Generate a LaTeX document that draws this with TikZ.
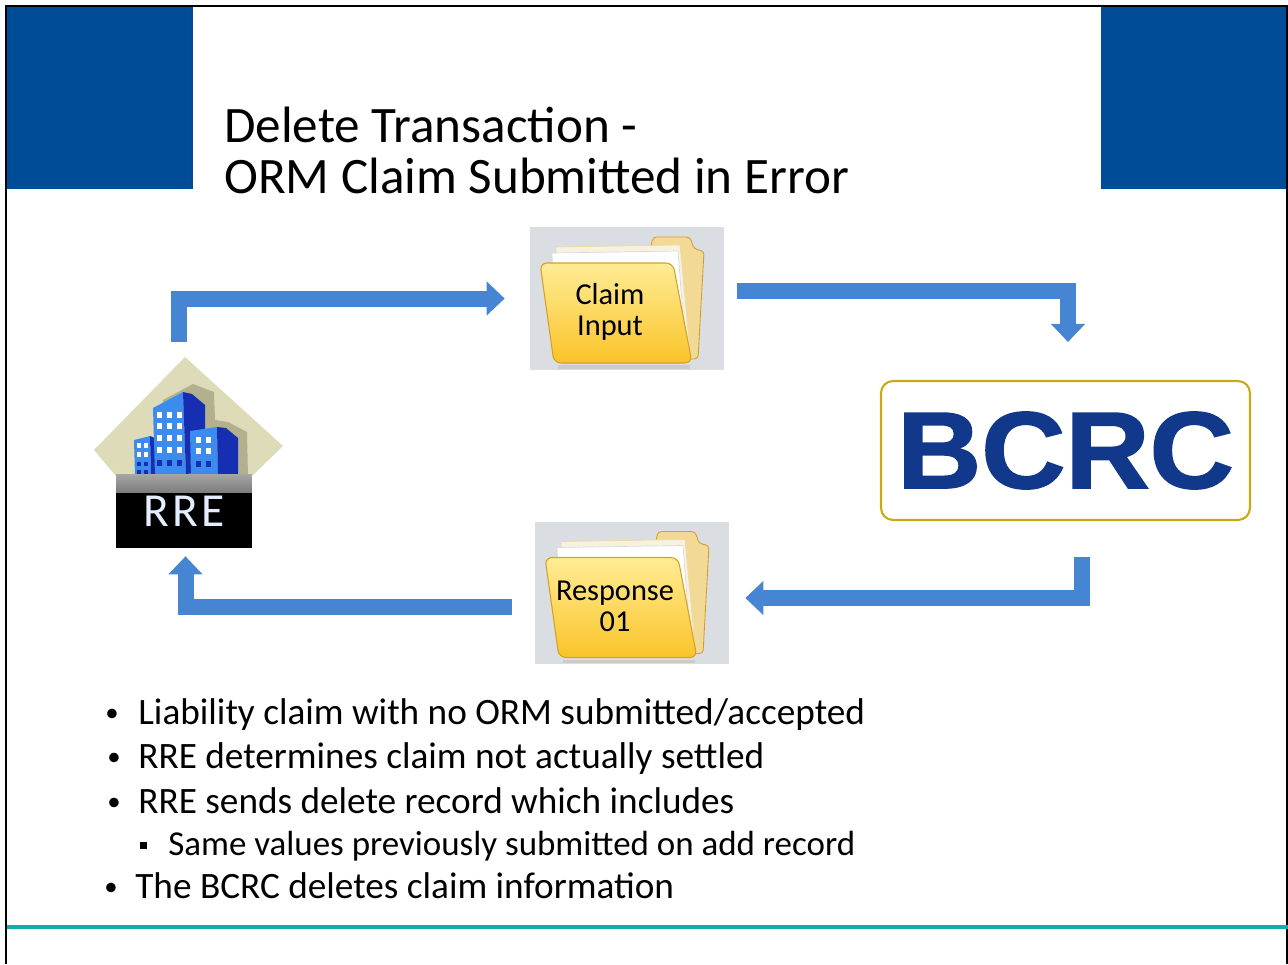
\documentclass[tikz,border=0pt]{standalone}
\usepackage{fontspec}
\setmainfont{Carlito}
\newfontfamily\logofont[FakeBold=1.5]{Liberation Sans}
\usepackage{graphicx}
\usetikzlibrary{positioning,calc,arrows.meta}

\definecolor{slideblue}{RGB}{0,76,151}
\definecolor{rulecolor}{RGB}{24,172,168}
\definecolor{flowblue}{RGB}{70,132,212}
\definecolor{folderbg}{RGB}{218,221,225}
\definecolor{foldfront}{RGB}{250,196,40}
\definecolor{foldlight}{RGB}{255,236,150}
\definecolor{foldedge}{RGB}{214,160,40}
\definecolor{foldback}{RGB}{242,218,150}
\definecolor{paper}{RGB}{248,246,236}
\definecolor{goldline}{RGB}{200,170,20}
\definecolor{bcrcblue}{RGB}{18,56,140}
\definecolor{roofbeige}{RGB}{222,220,184}
\definecolor{bldshadow}{RGB}{178,176,142}
\definecolor{bldlight}{RGB}{60,140,240}
\definecolor{blddark}{RGB}{22,46,178}
\definecolor{rretext}{RGB}{228,238,255}

\tikzset{
  folder/.pic={
    \begin{scope}[shift={(-97,-71.5)}]
      % back of the folder
      \fill[foldback, draw=foldedge, line width=0.5pt, rounded corners=2pt]
        (40,24) -- (120,24) -- (123,10) -- (160,10) -- (164,22) -- (174,24) -- (168,132) -- (40,132) -- cycle;
      % sheets
      \fill[paper!85!foldback, draw=foldedge!40] (26,20) -- (150,18) -- (160,125) -- (30,128) -- cycle;
      \fill[white, draw=black!15] (22,26) -- (148,24) -- (156,128) -- (26,130) -- cycle;
      % front of the folder
      \shade[top color=foldlight, bottom color=foldfront, draw=foldedge, line width=0.6pt, rounded corners=4pt]
        (10,36) -- (143,36) -- (162,136) -- (24,136) -- cycle;
      \draw[black!25, line width=2pt, opacity=.6] (28,140) -- (160,140);
    \end{scope}
  },
  folderbox/.style={minimum width=3.88cm, minimum height=2.86cm, inner sep=0pt, fill=folderbg,
    path picture={\pic at (path picture bounding box.center) {folder};}},
  foldertext/.style={align=center, font=\fontsize{17.3}{17.8}\selectfont, xshift=-0.34cm, yshift=-0.27cm},
  flow/.style={draw=flowblue, line width=0.32cm, line join=miter, -{Triangle[length=0.36cm,width=0.66cm]}},
  title/.style={anchor=base west, inner sep=0pt, font=\fontsize{29.1}{30}\selectfont},
  item/.style={anchor=base west, inner sep=0pt, font=\fontsize{21.2}{25}\selectfont},
  subitem/.style={anchor=base west, inner sep=0pt, font=\fontsize{19.9}{24}\selectfont},
  rrelabel/.style={minimum width=2.72cm, minimum height=1.48cm, inner sep=0pt, fill=black, text=rretext,
    font=\fontsize{27}{27}\selectfont,
    path picture={\shade[top color=black!35, bottom color=black]
      (path picture bounding box.north west) rectangle ($(path picture bounding box.north east)+(0,18)$);}},
  bcrcbox/.style={draw=goldline, line width=1.2pt, rounded corners=0.24cm, fill=white,
    minimum width=7.38cm, minimum height=2.78cm, inner sep=0pt, text=bcrcblue}
}
\newcommand{\dotbul}{\raisebox{1.6pt}{\scalebox{0.72}{\textbullet}}}

\begin{document}
\begin{tikzpicture}[x=0.02cm, y=-0.02cm]
\useasboundingbox (0,0) rectangle (1288,964);
\fill[white] (0,0) rectangle (1288,964);

% slide frame and corner blocks
\fill[slideblue] (7,7) rectangle (193,189);
\fill[slideblue] (1101,7) rectangle (1287,189);
\draw[line width=0.85pt] (6,964) -- (6,6) -- (1287,6) -- (1287,964);
\draw[rulecolor, line width=2.8pt] (7,927) -- (1288,927);

% title
\node[title] (title1) at (224,142) {Delete Transaction -};
\node[title] (title2) at (224,193) {ORM Claim Submitted in Error};

% RRE icon
\fill[roofbeige] (94,450) -- (185,357) -- (283,446) -- (252,476) -- (116,476) -- cycle;
\fill[bldshadow] (163,400) -- (193,384) -- (214,392) -- (215,420) -- (228,422) -- (247,432) -- (248,476) -- (160,476) -- cycle;
\fill[bldlight] (134,440) -- (150,436) -- (151,476) -- (135,476) -- cycle;
\fill[blddark] (150,436) -- (155,438) -- (156,476) -- (151,476) -- cycle;
\fill[bldlight] (153,408) -- (183,392) -- (186,474) -- (155,476) -- cycle;
\fill[blddark] (183,392) -- (192,394) -- (205,405) -- (205,472) -- (186,474) -- cycle;
\fill[bldlight] (190,431) -- (217,427) -- (218,476) -- (191,476) -- cycle;
\fill[blddark] (217,427) -- (226,428) -- (238,438) -- (238,476) -- (218,476) -- cycle;
\foreach \x in {157,167,177}
  \foreach \y in {412,423,435,447}
    \fill[white] (\x,\y) rectangle +(5,6);
\foreach \x in {157,167,177}
  \fill[blddark] (\x,460) rectangle +(5,6);
\foreach \x in {137,144}
  \foreach \y in {443,452}
    \fill[white] (\x,\y) rectangle +(4,5);
\foreach \x in {137,144}
  \foreach \y in {462,470}
    \fill[blddark] (\x,\y) rectangle +(4,4);
\foreach \x in {196,206}
  \foreach \y in {437,448}
    \fill[white] (\x,\y) rectangle +(5,6);
\foreach \x in {196,206}
  \fill[blddark] (\x,461) rectangle +(5,6);
\node[rrelabel] (rrebox) at (184,511) {R\kern2pt R\kern2pt E};
\node[minimum width=3.78cm, minimum height=3.82cm, inner sep=0pt] (rre) at (188.5,452.5) {};

% files and BCRC
\node[folderbox, label={[foldertext]center:Claim\\Input}] (claim) at (627,298.5) {};
\node[folderbox, label={[foldertext]center:Response\\01}] (resp) at (632,593) {};
\node[bcrcbox] (bcrc) at (1065.5,450.5) {\scalebox{1.07}[1]{\logofont\bfseries\fontsize{62}{62}\selectfont BCRC}};

% flow arrows
\draw[flow] ($(rre.north)+(-10,-15)$) |- ($(claim.west)+(-25,0)$);
\draw[flow] ($(claim.east)+(13,-7.5)$) -| ($(bcrc.north)+(2.5,-38)$);
\draw[flow] ($(bcrc.south)+(16.5,36)$) |- ($(resp.east)+(16,5)$);
\draw[flow] ($(resp.west)+(-23,14)$) -| ($(rre.south)+(-3,8)$);

% bullet list
\node[item] (l1) at (105,724) {\makebox[0.66cm][l]{\dotbul}Liability claim with no ORM submitted/accepted};
\node[item] (l2) at (107,768) {\makebox[0.62cm][l]{\dotbul}RRE determines claim not actually settled};
\node[item] (l3) at (107,813) {\makebox[0.62cm][l]{\dotbul}RRE sends delete record which includes};
\node[subitem] (l4) at (140,855) {\makebox[0.56cm][l]{\raisebox{3.6pt}{\rule{3.8pt}{3.8pt}}}Same values previously submitted on add record};
\node[item] (l5) at (104,898) {\makebox[0.62cm][l]{\dotbul}The BCRC deletes claim information};
\end{tikzpicture}
\end{document}
